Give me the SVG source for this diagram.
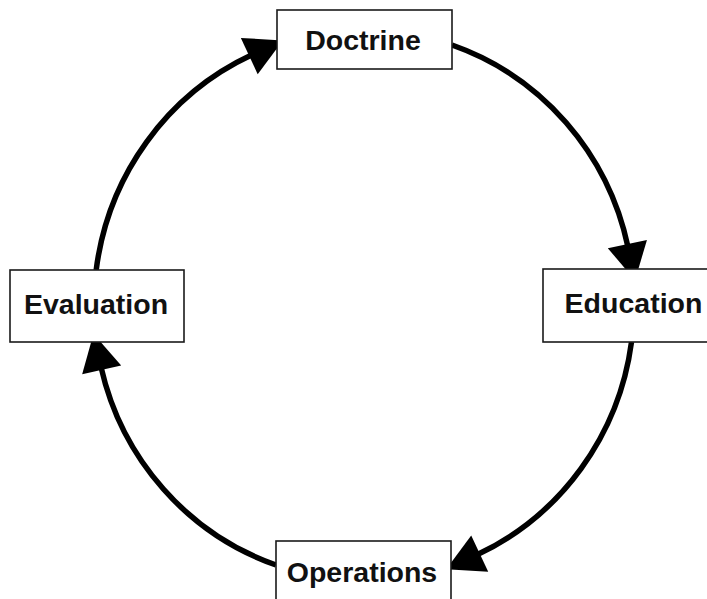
<svg xmlns="http://www.w3.org/2000/svg" width="707" height="599" viewBox="0 0 707 599">
  <style>
    .box { fill: #ffffff; stroke: #1a1a1a; stroke-width: 1.6; }
    .label { font-family: "Liberation Sans", Arial, sans-serif; font-weight: bold; font-size: 28.5px; fill: #111; text-anchor: middle; }
    .arc { fill: none; stroke: #000; stroke-width: 5.5; }
  </style>
  <defs>
    <marker id="head" markerUnits="userSpaceOnUse" markerWidth="44" markerHeight="44" viewBox="-4 -22 44 44" refX="0" refY="0" orient="auto">
      <polygon points="-3,-20 34,0 -3,20" fill="#000"/>
    </marker>
  </defs>
  <rect width="707" height="599" fill="#ffffff"/>
  <g id="connectors">
    <path class="arc" d="M 96.2,270 A 270 275 0 0 1 252,54.8" marker-end="url(#head)"/>
    <path class="arc" d="M 452,45 A 270 275 0 0 1 628,247" marker-end="url(#head)"/>
    <path class="arc" d="M 631.5,342 A 270 275 0 0 1 477,554.8" marker-end="url(#head)"/>
    <path class="arc" d="M 276,565 A 270 275 0 0 1 101,367" marker-end="url(#head)"/>
  </g>
  <g id="doctrine">
    <rect class="box" x="277" y="10" width="175" height="59"/>
    <text class="label" x="363" y="50">Doctrine</text>
  </g>
  <g id="education">
    <rect class="box" x="543" y="269" width="180" height="73"/>
    <text class="label" x="633.5" y="313">Education</text>
  </g>
  <g id="evaluation">
    <rect class="box" x="10" y="270" width="174" height="72"/>
    <text class="label" x="96" y="314">Evaluation</text>
  </g>
  <g id="operations">
    <rect class="box" x="276" y="541" width="175" height="72"/>
    <text class="label" x="362" y="582">Operations</text>
  </g>
</svg>
